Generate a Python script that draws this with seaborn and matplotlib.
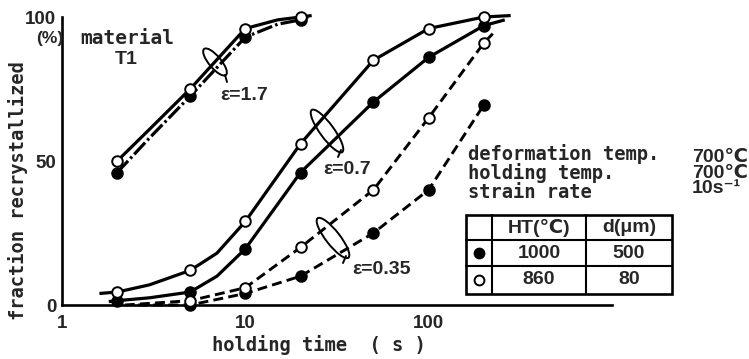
import numpy as np
import pandas as pd
import matplotlib
matplotlib.use("Agg")
import matplotlib.pyplot as plt
import seaborn as sns
from matplotlib.patches import Ellipse, Rectangle
from matplotlib.lines import Line2D

# ---------------- data ----------------
# strain 1.7
e17_open_t = [2, 5, 10, 20]
e17_open_f = [50, 75, 96, 100]
e17_fill_t = [2, 5, 10, 20]
e17_fill_f = [46, 72.5, 93, 99]
e17_open_line_t = [2, 3, 5, 10, 15, 20, 23]
e17_open_line_f = [50, 61, 75, 96, 99, 100, 100.5]
e17_fill_line_t = [2, 3, 5, 10, 15, 20, 22]
e17_fill_line_f = [46, 58, 72.5, 93, 97.5, 99, 100]

# strain 0.7
e07_open_t = [2, 5, 10, 20, 50, 100, 200]
e07_open_f = [4.5, 12, 29, 56, 85, 96, 100]
e07_fill_t = [2, 5, 10, 20, 50, 100, 200]
e07_fill_f = [1.5, 4.5, 19.5, 46, 70.5, 86, 97]
e07_open_line_t = [1.6, 2, 3, 5, 7, 10, 20, 50, 100, 200, 280]
e07_open_line_f = [4, 4.5, 7, 12, 18, 29, 56, 85, 96, 100, 100.5]
e07_fill_line_t = [1.8, 2, 3, 5, 7, 10, 20, 50, 100, 200, 260]
e07_fill_line_f = [1.2, 1.5, 2.5, 4.5, 10, 19.5, 46, 70.5, 86, 97, 99]

# strain 0.35
e035_open_t = [5, 10, 20, 50, 100, 200]
e035_open_f = [1.5, 6, 20, 40, 65, 91]
e035_fill_t = [5, 10, 20, 50, 100, 200]
e035_fill_f = [0, 4, 10, 25, 40, 69.5]
e035_open_line_t = [2.2, 5, 10, 20, 50, 100, 200, 230]
e035_open_line_f = [0, 1.5, 6, 20, 40, 65, 91, 95]
e035_fill_line_t = [2.6, 5, 10, 20, 50, 100, 200]
e035_fill_line_f = [0, 0, 4, 10, 25, 40, 69.5]

x_ticks = [1, 10, 100]
x_tick_labels = ["1", "10", "100"]
y_ticks = [0, 50, 100]
y_tick_labels = ["0", "50", "100"]

info_labels = ["deformation temp.", "holding temp.", "strain rate"]
info_values = ["700℃", "700℃", "10s⁻¹"]
table_header = ["", "HT(℃)", "d(μm)"]
table_rows = [["●", "1000", "500"], ["○", "860", "80"]]

# ---------------- styling ----------------
sns.set_style("white")
plt.rcParams["font.family"] = ["DejaVu Sans"]

W, H = 749, 359
fig = plt.figure(figsize=(W / 100, H / 100), dpi=100)
L, R, T, B = 62, 612, 17, 305
ax = fig.add_axes([L / W, (H - B) / H, (R - L) / W, (B - T) / H])
ax.set_xscale("log")
ax.set_xlim(1, 1000)
ax.set_ylim(0, 100)

LW = 2.3
def curve(tx, fy, style):
    sns.lineplot(x=tx, y=fy, ax=ax, color="black", lw=LW if style != "dash" else 2.1,
                 estimator=None, sort=False, errorbar=None)
    ln = ax.lines[-1]
    ln.set_clip_on(False)
    ln.set_solid_capstyle("butt")
    if style == "dash":
        ln.set_dashes((3.4, 1.8))
    elif style == "dashdot":
        ln.set_dashes((5, 1.0, 0.8, 1.0))

def marks(tx, fy, filled):
    sns.scatterplot(x=tx, y=fy, ax=ax, marker="o", s=58,
                    color="black" if filled else "white",
                    edgecolor="black", linewidth=1.4, zorder=5, clip_on=False)

curve(e17_open_line_t, e17_open_line_f, "solid")
curve(e17_fill_line_t, e17_fill_line_f, "dashdot")
curve(e07_open_line_t, e07_open_line_f, "solid")
curve(e07_fill_line_t, e07_fill_line_f, "solid")
curve(e035_open_line_t, e035_open_line_f, "dash")
curve(e035_fill_line_t, e035_fill_line_f, "dash")

marks(e17_fill_t, e17_fill_f, True)
marks(e17_open_t, e17_open_f, False)
marks(e07_fill_t, e07_fill_f, True)
marks(e07_open_t, e07_open_f, False)
marks(e035_fill_t, e035_fill_f, True)
marks(e035_open_t, e035_open_f, False)

for s in ["top", "right"]:
    ax.spines[s].set_visible(False)
for s in ["left", "bottom"]:
    ax.spines[s].set_linewidth(1.9)
    ax.spines[s].set_color("black")

num_font = dict(family=["Liberation Sans", "DejaVu Sans"], weight="bold", size=13.5)
ax.set_xticks(x_ticks)
ax.set_xticklabels(x_tick_labels, fontdict=num_font)
ax.xaxis.set_minor_locator(matplotlib.ticker.NullLocator())
ax.set_yticks(y_ticks)
ax.set_yticklabels(y_tick_labels, fontdict=num_font)
ax.tick_params(axis="both", direction="in", length=8, width=1.9, color="black")
ax.tick_params(axis="x", pad=7)
ax.tick_params(axis="y", pad=4)
xt = ax.xaxis.get_major_ticks()
xt[0].tick1line.set_visible(False)
xt[1].tick1line.set_visible(False)
ax.yaxis.get_major_ticks()[0].tick1line.set_visible(False)
ax.set_xlabel("")
ax.set_ylabel("")

# ---------------- overlay in pixel coordinates ----------------
ov = fig.add_axes([0, 0, 1, 1], facecolor="none")
ov.set_xlim(0, W)
ov.set_ylim(H, 0)
ov.axis("off")

mono = dict(family=["DejaVu Sans Mono", "DejaVu Sans"], weight="bold")
sansb = dict(family=["Liberation Sans", "DejaVu Sans"], weight="bold")

ov.text(319, 345, "holding time  ( s )", ha="center", va="center", size=13.5, **mono)
ov.text(18, 191, "fraction recrystallized", ha="center", va="center", rotation=90,
        size=13.5, **mono)
ov.text(50, 38, "(%)", ha="center", va="center", size=12.5, **sansb)
ov.text(127, 38, "material", ha="center", va="center", size=14, **mono)
ov.text(126, 59, "T1", ha="center", va="center", size=14, **sansb)

ov.text(220, 95, "ε=1.7", ha="left", va="center", size=14, **sansb)
ov.text(323, 170, "ε=0.7", ha="left", va="center", size=14, **sansb)
ov.text(352, 269, "ε=0.35", ha="left", va="center", size=14, **sansb)

for (cx, cy, w, h, ang, tail) in [
    (215, 62, 34, 12, 50, ((225, 75), (227, 82))),
    (327, 131, 52, 14, 54, ((341, 150), (338, 157))),
    (333, 238, 50, 14, 52, ((346, 256), (343, 263))),
]:
    ov.add_patch(Ellipse((cx, cy), w, h, angle=ang, fill=False, lw=1.4, ec="black"))
    ov.add_line(Line2D([tail[0][0], tail[1][0]], [tail[0][1], tail[1][1]], color="black", lw=1.4))

ov.text(468, 173, "\n".join(info_labels), ha="left", va="center", size=13.5,
        linespacing=0.95, **mono)
ov.text(692, 173, "\n".join(info_values), ha="left", va="center", size=14,
        linespacing=0.92, **sansb)

# table
cols = [466, 492, 586, 672]
rows = [215, 240, 266, 294]
ov.add_patch(Rectangle((cols[0], rows[0]), cols[-1] - cols[0], rows[-1] - rows[0],
                       fill=False, lw=1.9, ec="black"))
for c in cols[1:-1]:
    ov.add_line(Line2D([c, c], [rows[0], rows[-1]], color="black", lw=1.5))
for r in rows[1:-1]:
    ov.add_line(Line2D([cols[0], cols[-1]], [r, r], color="black", lw=1.5))
all_rows = [table_header] + table_rows
for i, row in enumerate(all_rows):
    yy = (rows[i] + rows[i + 1]) / 2
    for j, cell in enumerate(row):
        xx = (cols[j] + cols[j + 1]) / 2
        if j == 0 and cell:
            ov.scatter([xx], [yy], s=50, marker="o",
                       c="black" if cell == "●" else "white", edgecolors="black",
                       linewidths=1.4)
        elif cell:
            ov.text(xx, yy, cell, ha="center", va="center", size=14, **sansb)

fig.savefig("out.png", dpi=100)
